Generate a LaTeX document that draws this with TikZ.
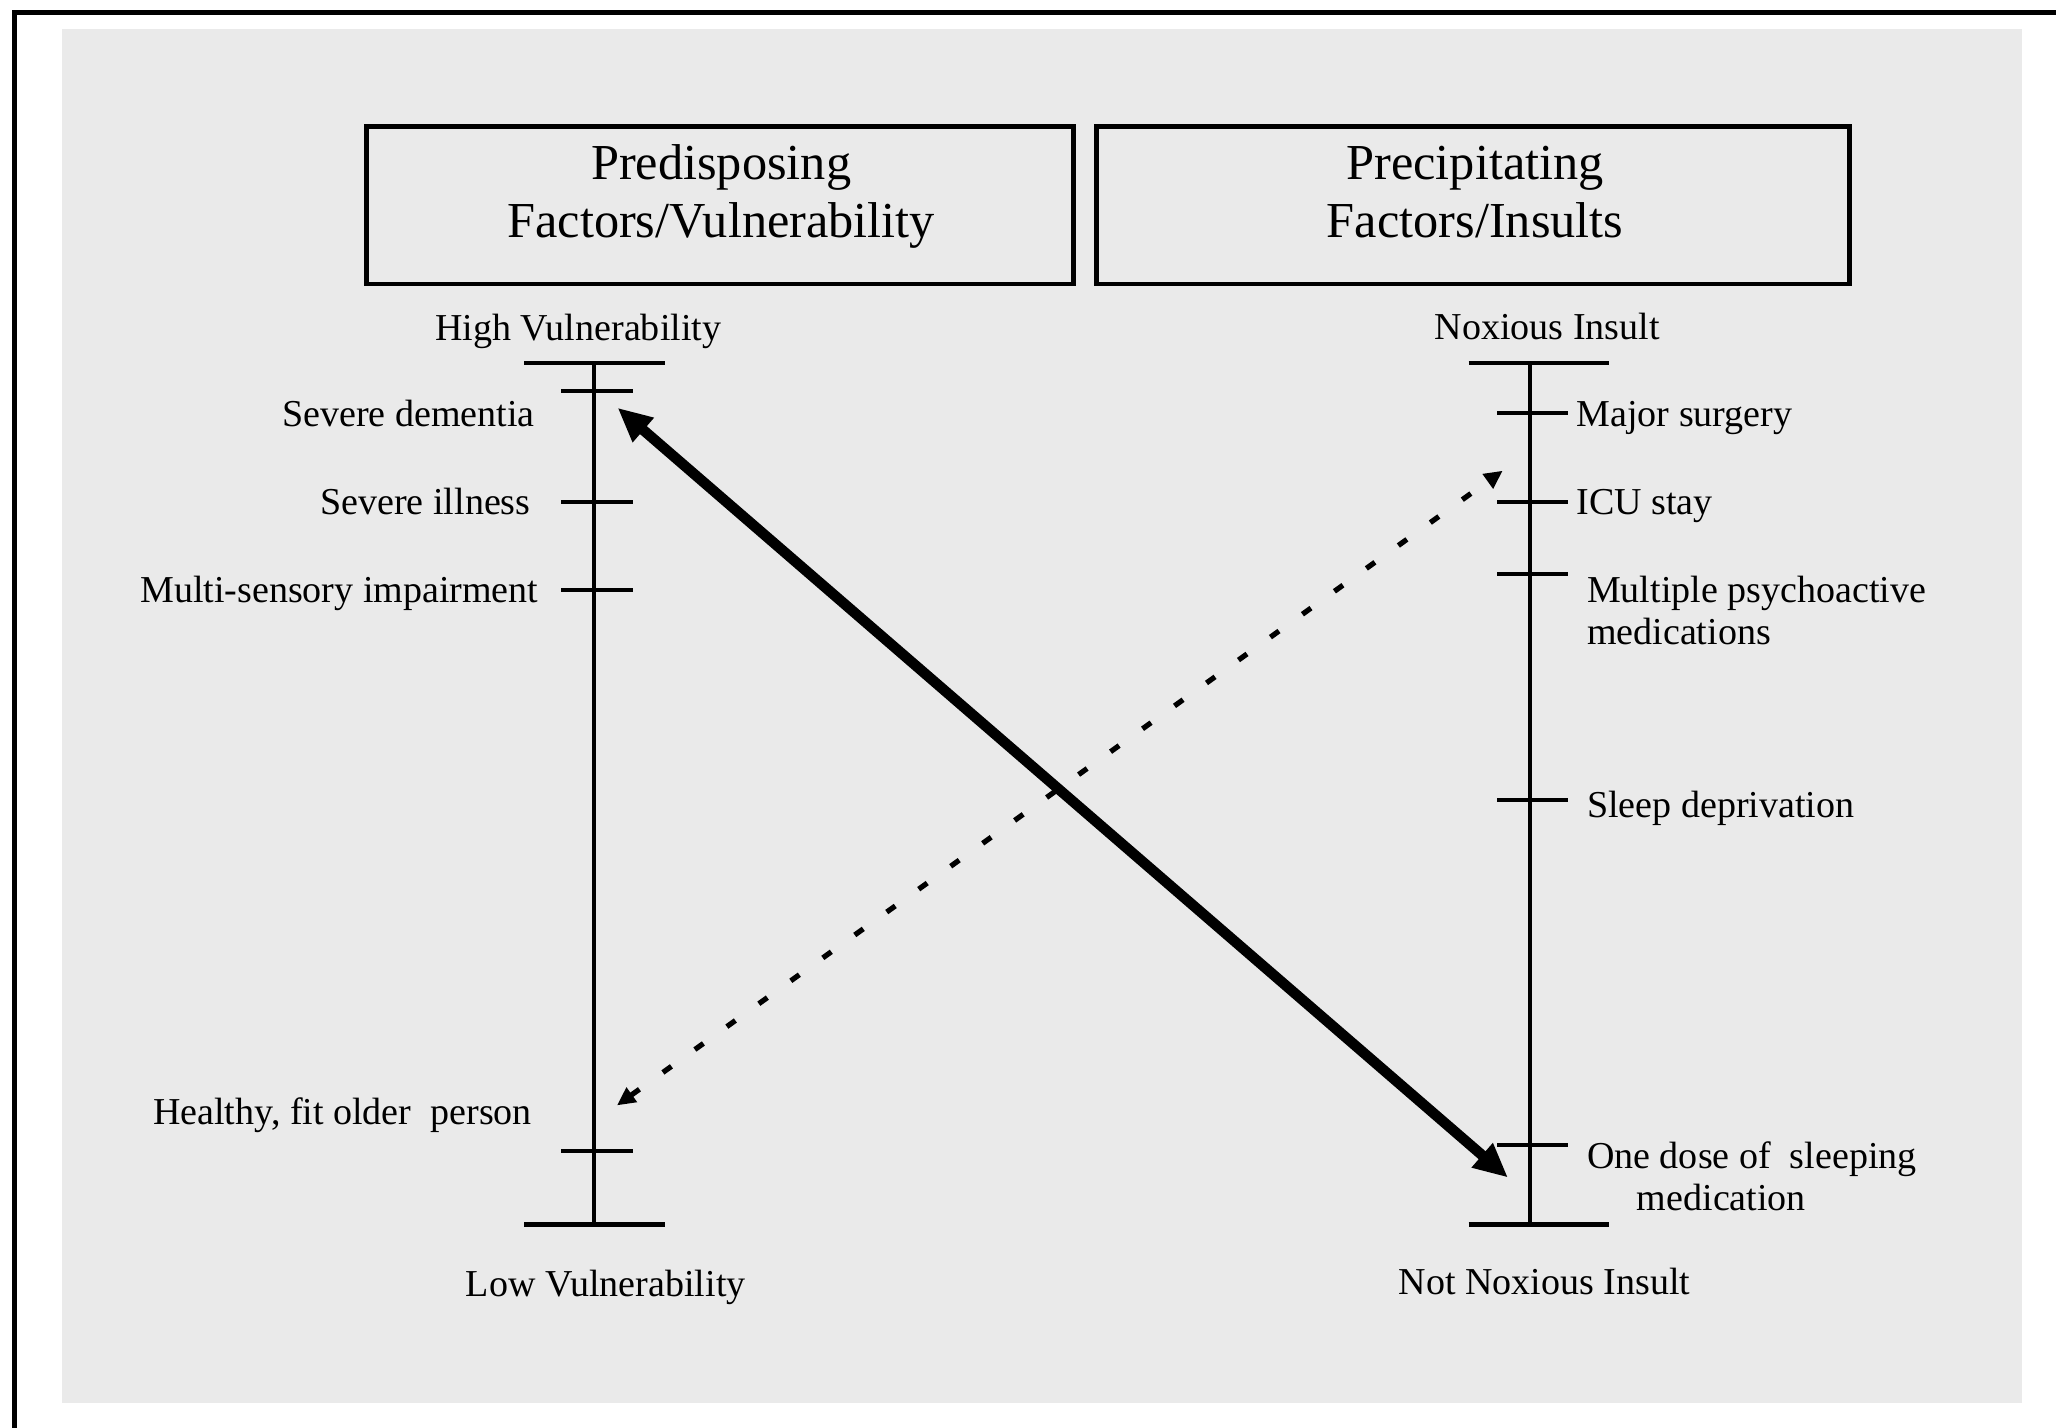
\documentclass[tikz,border=0pt]{standalone}
\usepackage{fontspec}
\setmainfont{Liberation Serif}
\usetikzlibrary{arrows.meta}
\definecolor{bggray}{RGB}{234,234,234}
\begin{document}
\begin{tikzpicture}[x=0.5pt,y=-0.5pt,
  lbl/.style={font=\fontsize{14.5}{16}\selectfont, inner sep=0pt},
  mlbl/.style={lbl, align=left},
  hdr/.style={font=\fontsize{19.2}{22}\selectfont, align=center, inner sep=0pt},
  hbox/.style={draw=black, line width=1.8pt, inner sep=0pt},
  axisline/.style={line width=1.5pt},
  tickline/.style={line width=1.5pt},
  capline/.style={line width=1.5pt},
  capthick/.style={line width=2pt},
  solidarrow/.style={line width=4pt, {Triangle[length=13pt,width=11.5pt]}-{Triangle[length=13pt,width=11.5pt]}},
  dotarrow/.style={line width=2pt, dash pattern=on 4pt off 11pt, {Triangle[length=7pt,width=6.5pt]}-{Triangle[length=7pt,width=6.5pt]}}]
\path[use as bounding box] (0,0) rectangle (1568,1089);
\clip (0,0) rectangle (1568,1089);
\fill[white] (0,0) rectangle (1568,1089);
\fill[bggray] (47,22) rectangle (1542,1070);
\draw[line width=1.9pt] (1580,9.2) -- (10.7,9.2) -- (10.7,1100);

% header boxes
\node[hbox, minimum width=269.5pt, minimum height=60pt] (boxA) at (549,156.5) {};
\node[hbox, minimum width=287pt, minimum height=60pt] (boxB) at (1123.5,156.5) {};
\node[hdr] (hdrA) at (550,150) {Predisposing\\Factors/Vulnerability};
\node[hdr] (hdrB) at (1125,146.5) {Precipitating\\Factors/Insults};

% left axis
\coordinate (LT) at (453,277);
\coordinate (LB) at (453,934);
\draw[axisline] (LT) -- (LB);
\draw[capline] (400,277) -- (507,277);
\draw[capthick] (400,934) -- (507,934);
\foreach \yy in {298,383,450,878} \draw[tickline] (428,\yy) -- (483,\yy);

% right axis
\coordinate (RT) at (1167,277);
\coordinate (RB) at (1167,934);
\draw[axisline] (RT) -- (RB);
\draw[capline] (1120,277) -- (1227,277);
\draw[capthick] (1120,934) -- (1227,934);
\foreach \yy in {315,383,438,610,873} \draw[tickline] (1142,\yy) -- (1196,\yy);

% left labels
\node[lbl, anchor=mid] (hv) at (441,255) {High Vulnerability};
\node[lbl, anchor=mid east] (sd) at (408,321) {Severe dementia};
\node[lbl, anchor=mid east] (si) at (405,388) {Severe illness};
\node[lbl, anchor=mid east] (ms) at (411,455) {Multi-sensory impairment};
\node[lbl, anchor=mid east] (hf) at (406,853) {Healthy, fit older\ \ person};
\node[lbl, anchor=mid] (lv) at (462,984) {Low Vulnerability};

% right labels
\node[lbl, anchor=mid] (ni) at (1180,254) {Noxious Insult};
\node[lbl, anchor=mid west] (mjs) at (1202,321) {Major surgery};
\node[lbl, anchor=mid west] (icu) at (1202,388) {ICU stay};
\node[mlbl, anchor=north west] (mpm) at (1210,439) {Multiple psychoactive\\medications};
\node[lbl, anchor=mid west] (sdp) at (1210,619) {Sleep deprivation};
\node[mlbl, anchor=north west] (ods) at (1210,870) {One dose of\ \ sleeping\\\hspace*{19pt}medication};
\node[lbl, anchor=mid] (nni) at (1178,983) {Not Noxious Insult};

% arrows
\coordinate (solA) at (471,311);
\coordinate (solB) at (1150,898);
\coordinate (dotA) at (470.5,843);
\coordinate (dotB) at (1146,359);
\draw[solidarrow] (solA) -- (solB);
\draw[dotarrow] (dotA) -- (dotB);
\end{tikzpicture}
\end{document}
